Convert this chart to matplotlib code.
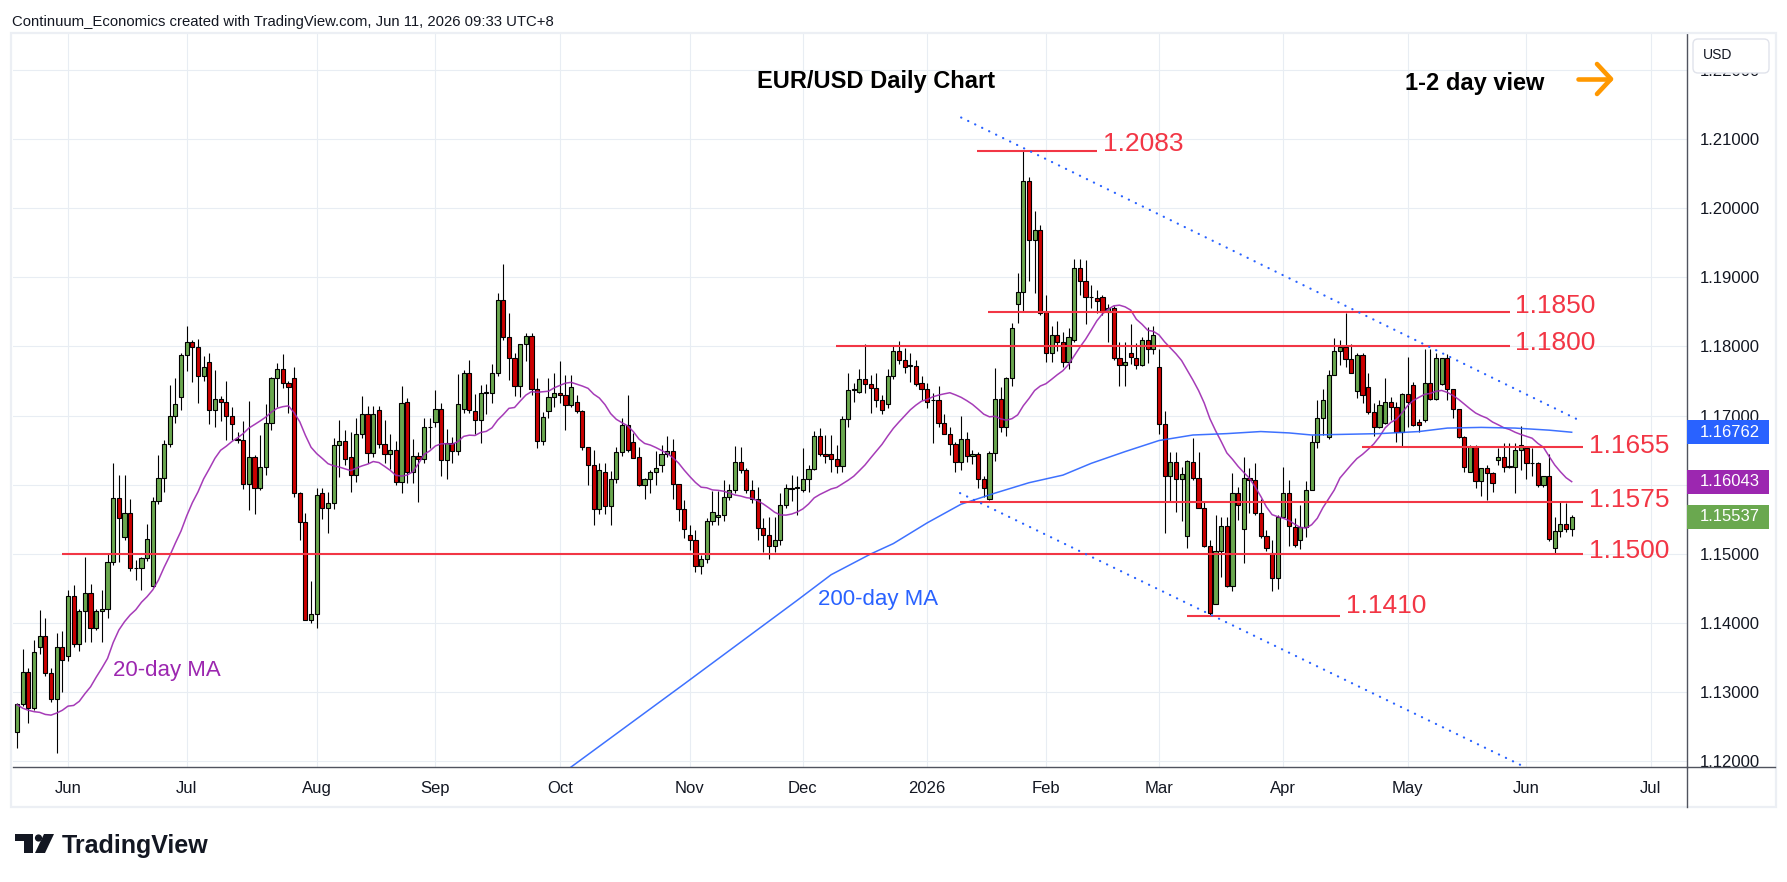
import numpy as np
import pandas as pd
import matplotlib
matplotlib.use("Agg")
import matplotlib.pyplot as plt
from matplotlib.patches import Rectangle, FancyBboxPatch, Polygon, Circle
from matplotlib.lines import Line2D

plt.rcParams['font.family'] = ['Liberation Sans', 'DejaVu Sans']

# ---------------- data ----------------
opens = [1.1242,1.1283,1.1329,1.1278,1.1365,1.1381,1.1328,1.1291,1.1366,1.1353,
1.1439,1.1370,1.1417,1.1444,1.1393,1.1417,1.1420,1.1488,1.1581,1.1525,
1.1559,1.1479,1.1479,1.1494,1.1454,1.1576,1.1610,1.1659,1.1700,1.1727,
1.1787,1.1806,1.1799,1.1757,1.1777,1.1708,1.1724,1.1719,1.1699,1.1665,
1.1665,1.1601,1.1640,1.1595,1.1626,1.1689,1.1754,1.1767,1.1747,1.1754,
1.1588,1.1546,1.1405,1.1413,1.1588,1.1567,1.1574,1.1658,1.1663,1.1640,
1.1614,1.1673,1.1703,1.1646,1.1708,1.1659,1.1645,1.1651,1.1604,1.1719,
1.1618,1.1642,1.1638,1.1683,1.1691,1.1710,1.1636,1.1660,1.1649,1.1709,
1.1762,1.1707,1.1694,1.1733,1.1733,1.1761,1.1867,1.1813,1.1784,1.1743,
1.1803,1.1815,1.1738,1.1664,1.1706,1.1727,1.1733,1.1730,1.1715,1.1720,
1.1707,1.1655,1.1628,1.1565,1.1618,1.1569,1.1608,1.1648,1.1687,1.1662,
1.1640,1.1600,1.1609,1.1618,1.1628,1.1644,1.1649,1.1601,1.1565,1.1528,
1.1520,1.1483,1.1492,1.1547,1.1553,1.1557,1.1582,1.1593,1.1633,1.1621,
1.1592,1.1580,1.1537,1.1527,1.1511,1.1520,1.1571,1.1594,1.1596,1.1592,
1.1609,1.1623,1.1671,1.1645,1.1645,1.1637,1.1627,1.1695,1.1737,1.1734,
1.1753,1.1746,1.1740,1.1722,1.1717,1.1758,1.1794,1.1780,1.1772,1.1772,
1.1747,1.1738,1.1722,1.1722,1.1689,1.1674,1.1659,1.1633,1.1666,1.1642,
1.1645,1.1608,1.1580,1.1646,1.1724,1.1683,1.1754,1.1861,1.1879,1.2039,
1.1954,1.1969,1.1850,1.1790,1.1816,1.1806,1.1777,1.1809,1.1913,1.1894,
1.1871,1.1870,1.1872,1.1850,1.1855,1.1783,1.1773,1.1791,1.1784,1.1773,
1.1810,1.1797,1.1770,1.1688,1.1612,1.1633,1.1608,1.1526,1.1633,1.1610,
1.1567,1.1511,1.1428,1.1505,1.1540,1.1453,1.1588,1.1536,1.1610,1.1607,
1.1559,1.1526,1.1501,1.1465,1.1553,1.1588,1.1539,1.1520,1.1539,1.1593,
1.1662,1.1697,1.1669,1.1759,1.1794,1.1799,1.1782,1.1736,1.1788,1.1742,
1.1705,1.1683,1.1689,1.1719,1.1712,1.1677,1.1731,1.1745,1.1691,1.1693,
1.1747,1.1724,1.1746,1.1783,1.1738,1.1709,1.1669,1.1619,1.1655,1.1606,
1.1624,1.1617,1.1636,1.1640,1.1626,1.1626,1.1650,1.1653,1.1631,1.1631,
1.1599,1.1612,1.1508,1.1533,1.1543,1.1536]
highs = [1.1285,1.1362,1.1335,1.1376,1.1419,1.1407,1.1335,1.1386,1.1388,1.1448,
1.1455,1.1420,1.1495,1.1457,1.1420,1.1448,1.1500,1.1631,1.1614,1.1614,
1.1579,1.1491,1.1496,1.1543,1.1583,1.1643,1.1665,1.1745,1.1754,1.1790,
1.1830,1.1810,1.1811,1.1786,1.1790,1.1766,1.1728,1.1750,1.1713,1.1677,
1.1692,1.1721,1.1643,1.1672,1.1717,1.1756,1.1776,1.1789,1.1750,1.1771,
1.1590,1.1559,1.1461,1.1595,1.1596,1.1590,1.1668,1.1694,1.1679,1.1677,
1.1697,1.1728,1.1714,1.1714,1.1714,1.1693,1.1673,1.1663,1.1743,1.1725,
1.1666,1.1647,1.1697,1.1696,1.1737,1.1718,1.1680,1.1669,1.1760,1.1766,
1.1780,1.1731,1.1745,1.1746,1.1775,1.1878,1.1919,1.1848,1.1791,1.1804,
1.1819,1.1819,1.1754,1.1705,1.1754,1.1761,1.1779,1.1759,1.1759,1.1730,
1.1708,1.1655,1.1651,1.1631,1.1631,1.1620,1.1655,1.1696,1.1730,1.1675,
1.1655,1.1610,1.1622,1.1649,1.1658,1.1670,1.1666,1.1601,1.1578,1.1542,
1.1535,1.1499,1.1552,1.1591,1.1591,1.1607,1.1601,1.1656,1.1654,1.1624,
1.1607,1.1597,1.1552,1.1553,1.1554,1.1588,1.1601,1.1614,1.1612,1.1653,
1.1628,1.1678,1.1682,1.1672,1.1672,1.1657,1.1700,1.1762,1.1747,1.1768,
1.1803,1.1759,1.1762,1.1730,1.1768,1.1802,1.1808,1.1798,1.1790,1.1780,
1.1757,1.1747,1.1732,1.1743,1.1702,1.1683,1.1662,1.1699,1.1677,1.1650,
1.1648,1.1612,1.1649,1.1769,1.1742,1.1756,1.1834,1.1906,1.2083,1.2045,
1.1996,1.1976,1.1874,1.1829,1.1837,1.1821,1.1826,1.1926,1.1927,1.1925,
1.1889,1.1882,1.1874,1.1862,1.1858,1.1807,1.1807,1.1833,1.1805,1.1814,
1.1828,1.1829,1.1797,1.1706,1.1648,1.1648,1.1626,1.1636,1.1667,1.1648,
1.1576,1.1520,1.1556,1.1554,1.1554,1.1617,1.1597,1.1640,1.1625,1.1632,
1.1580,1.1535,1.1520,1.1556,1.1626,1.1607,1.1552,1.1571,1.1605,1.1672,
1.1723,1.1739,1.1766,1.1812,1.1809,1.1848,1.1803,1.1790,1.1791,1.1762,
1.1718,1.1723,1.1754,1.1727,1.1720,1.1733,1.1785,1.1748,1.1695,1.1796,
1.1797,1.1790,1.1784,1.1789,1.1739,1.1710,1.1670,1.1658,1.1658,1.1624,
1.1629,1.1619,1.1653,1.1661,1.1661,1.1661,1.1685,1.1655,1.1653,1.1633,
1.1612,1.1645,1.1554,1.1577,1.1574,1.1556]
lows = [1.1219,1.1280,1.1256,1.1275,1.1355,1.1324,1.1286,1.1212,1.1301,1.1345,
1.1366,1.1359,1.1373,1.1373,1.1390,1.1373,1.1407,1.1484,1.1489,1.1520,
1.1476,1.1463,1.1448,1.1490,1.1452,1.1572,1.1590,1.1655,1.1690,1.1708,
1.1764,1.1749,1.1718,1.1750,1.1688,1.1683,1.1692,1.1665,1.1665,1.1660,
1.1594,1.1563,1.1558,1.1593,1.1614,1.1679,1.1713,1.1740,1.1704,1.1583,
1.1520,1.1404,1.1400,1.1393,1.1551,1.1530,1.1565,1.1611,1.1628,1.1589,
1.1604,1.1668,1.1631,1.1640,1.1653,1.1631,1.1623,1.1600,1.1588,1.1603,
1.1603,1.1575,1.1631,1.1653,1.1684,1.1612,1.1609,1.1631,1.1643,1.1704,
1.1704,1.1673,1.1660,1.1703,1.1718,1.1758,1.1809,1.1751,1.1729,1.1727,
1.1779,1.1730,1.1653,1.1658,1.1697,1.1713,1.1718,1.1679,1.1713,1.1704,
1.1651,1.1600,1.1542,1.1558,1.1558,1.1542,1.1603,1.1641,1.1647,1.1639,
1.1598,1.1579,1.1588,1.1600,1.1619,1.1640,1.1579,1.1548,1.1523,1.1506,
1.1474,1.1471,1.1487,1.1542,1.1542,1.1548,1.1578,1.1588,1.1617,1.1588,
1.1573,1.1520,1.1503,1.1492,1.1503,1.1513,1.1567,1.1577,1.1556,1.1590,
1.1590,1.1621,1.1642,1.1631,1.1618,1.1617,1.1619,1.1683,1.1720,1.1732,
1.1733,1.1704,1.1713,1.1702,1.1711,1.1753,1.1774,1.1762,1.1748,1.1743,
1.1722,1.1711,1.1660,1.1684,1.1674,1.1643,1.1619,1.1621,1.1633,1.1630,
1.1595,1.1583,1.1578,1.1634,1.1677,1.1671,1.1743,1.1834,1.1850,1.1895,
1.1877,1.1846,1.1777,1.1777,1.1793,1.1771,1.1767,1.1807,1.1874,1.1833,
1.1855,1.1849,1.1846,1.1807,1.1780,1.1743,1.1743,1.1774,1.1768,1.1772,
1.1776,1.1789,1.1673,1.1531,1.1575,1.1560,1.1547,1.1508,1.1607,1.1566,
1.1510,1.1412,1.1427,1.1467,1.1452,1.1446,1.1549,1.1487,1.1559,1.1556,
1.1523,1.1505,1.1446,1.1449,1.1553,1.1511,1.1510,1.1507,1.1525,1.1592,
1.1653,1.1672,1.1666,1.1759,1.1773,1.1771,1.1761,1.1725,1.1718,1.1703,
1.1670,1.1682,1.1688,1.1694,1.1662,1.1655,1.1684,1.1685,1.1677,1.1691,
1.1723,1.1723,1.1744,1.1723,1.1696,1.1667,1.1619,1.1619,1.1595,1.1584,
1.1578,1.1589,1.1629,1.1619,1.1624,1.1588,1.1621,1.1608,1.1612,1.1597,
1.1597,1.1519,1.1501,1.1525,1.1532,1.1526]
closes = [1.1283,1.1329,1.1278,1.1358,1.1381,1.1328,1.1291,1.1366,1.1347,1.1439,
1.1370,1.1417,1.1444,1.1393,1.1417,1.1420,1.1488,1.1581,1.1552,1.1559,
1.1479,1.1480,1.1494,1.1521,1.1576,1.1610,1.1659,1.1700,1.1717,1.1787,
1.1806,1.1799,1.1757,1.1770,1.1708,1.1724,1.1719,1.1699,1.1688,1.1666,
1.1601,1.1640,1.1595,1.1626,1.1689,1.1754,1.1767,1.1747,1.1741,1.1588,
1.1546,1.1405,1.1413,1.1585,1.1567,1.1574,1.1658,1.1663,1.1638,1.1614,
1.1673,1.1703,1.1646,1.1702,1.1659,1.1645,1.1651,1.1604,1.1718,1.1618,
1.1642,1.1638,1.1683,1.1684,1.1710,1.1636,1.1660,1.1649,1.1717,1.1762,
1.1708,1.1694,1.1733,1.1734,1.1761,1.1867,1.1813,1.1784,1.1743,1.1803,
1.1815,1.1738,1.1664,1.1698,1.1727,1.1733,1.1730,1.1715,1.1741,1.1707,
1.1655,1.1628,1.1565,1.1622,1.1569,1.1608,1.1648,1.1687,1.1651,1.1639,
1.1600,1.1609,1.1618,1.1625,1.1644,1.1649,1.1601,1.1565,1.1536,1.1520,
1.1483,1.1492,1.1547,1.1561,1.1557,1.1582,1.1593,1.1633,1.1621,1.1592,
1.1580,1.1537,1.1527,1.1511,1.1520,1.1571,1.1595,1.1596,1.1596,1.1609,
1.1623,1.1671,1.1645,1.1641,1.1637,1.1627,1.1695,1.1737,1.1738,1.1753,
1.1746,1.1740,1.1722,1.1708,1.1758,1.1794,1.1780,1.1770,1.1773,1.1746,
1.1738,1.1719,1.1723,1.1689,1.1674,1.1659,1.1633,1.1666,1.1642,1.1645,
1.1608,1.1595,1.1646,1.1724,1.1683,1.1754,1.1826,1.1879,1.2039,1.1954,
1.1969,1.1848,1.1790,1.1816,1.1806,1.1777,1.1813,1.1913,1.1894,1.1871,
1.1872,1.1866,1.1850,1.1855,1.1783,1.1773,1.1777,1.1785,1.1773,1.1810,
1.1797,1.1816,1.1688,1.1612,1.1633,1.1608,1.1616,1.1634,1.1610,1.1567,
1.1511,1.1414,1.1505,1.1540,1.1453,1.1588,1.1571,1.1610,1.1607,1.1559,
1.1526,1.1508,1.1465,1.1553,1.1588,1.1540,1.1513,1.1539,1.1593,1.1662,
1.1697,1.1723,1.1759,1.1794,1.1799,1.1782,1.1762,1.1788,1.1730,1.1705,
1.1683,1.1716,1.1719,1.1712,1.1677,1.1731,1.1720,1.1686,1.1686,1.1747,
1.1724,1.1784,1.1783,1.1738,1.1709,1.1669,1.1626,1.1655,1.1606,1.1624,
1.1617,1.1602,1.1640,1.1626,1.1627,1.1650,1.1657,1.1631,1.1632,1.1599,
1.1612,1.1521,1.1533,1.1543,1.1536,1.1554]

# 20-day MA values before a full 20-bar window is visible
ma20_head = [1.1282,1.1277,1.1274,1.1272,1.1271,1.1268,1.1267,1.1270,1.1274,1.1280,
             1.1281,1.1287,1.1298,1.1308,1.1322,1.1335,1.1349,1.1372,1.1390]
# 200-day MA: bar index -> value
ma200_idx = [96,118,138,144,151,155,161,167,173,179,185,190,196,202,208,214,220,
             225,229,235,241,248,253,259,265,271,275]
ma200_val = [1.1180,1.1312,1.1433,1.1470,1.1500,1.1515,1.1545,1.1572,1.1588,1.1603,
             1.1614,1.1631,1.1648,1.1664,1.1672,1.1674,1.1677,1.1675,1.1672,1.1673,
             1.1674,1.1677,1.1682,1.1683,1.1682,1.1679,1.1676]

levels = [1.2083, 1.1850, 1.1800, 1.1655, 1.1575, 1.1500, 1.1410]
level_labels = ['1.2083', '1.1850', '1.1800', '1.1655', '1.1575', '1.1500', '1.1410']
upper_trend_idx = [167.0, 276.9]
upper_trend_val = [1.2131, 1.1691]
lower_trend_idx = [166.8, 266.7]
lower_trend_val = [1.1588, 1.1192]

tag_values = [1.16762, 1.16043, 1.15537]
tag_texts = ['1.16762', '1.16043', '1.15537']
yticks = [1.12, 1.13, 1.14, 1.15, 1.16, 1.17, 1.18, 1.19, 1.20, 1.21, 1.22]

# ---------------- layout helpers ----------------
W, H = 1787, 882
L, R, T, B = 13, 1687, 33, 767
X0, DX = 17.1, 5.653          # pixel of bar 0, pixels per bar
YMIN, YMAX = 1.11920, 1.22532
PPU = (B - T) / (YMAX - YMIN)   # pixels per price unit


def px2i(px):
    return (px - X0) / DX


GREEN = '#6aa84f'
RED = '#cc0000'
LVL = '#f23645'
BLUE = '#2962ff'
PURPLE = '#9c27b0'
TXT = '#131722'

fig = plt.figure(figsize=(W / 100, H / 100), dpi=100, facecolor='white')
ax = fig.add_axes([L / W, 1 - B / H, (R - L) / W, (B - T) / H])
ax.set_xlim(px2i(L), px2i(R))
ax.set_ylim(YMIN, YMAX)
ax.set_axisbelow(True)

# dates / month ticks (bars exclude weekends, Dec 25, Jan 1)
days = pd.bdate_range('2025-05-20', '2026-07-31')
days = days[~days.isin(pd.to_datetime(['2025-12-25', '2026-01-01']))]
ser = pd.Series(np.arange(len(days)), index=days)
month_pos, month_lab = [], []
prev = None
for d, i in ser.items():
    key = (d.year, d.month)
    if key != prev:
        if i > 0:
            month_pos.append(i)
            month_lab.append('2026' if (d.month == 1) else d.strftime('%b'))
        prev = key

ax.set_xticks(month_pos)
ax.set_xticklabels(month_lab)
ax.set_yticks(yticks)
ax.set_yticklabels(['%.5f' % v for v in yticks])
ax.yaxis.tick_right()
ax.tick_params(axis='y', length=0, pad=9.5, labelsize=12, labelcolor=TXT)
ax.tick_params(axis='x', length=0, pad=10, labelsize=12, labelcolor=TXT)
ax.grid(True, color='#e8edf3', lw=0.8)
for s in ['top', 'left']:
    ax.spines[s].set_visible(False)
for s in ['right', 'bottom']:
    ax.spines[s].set_color('#50535e')
    ax.spines[s].set_linewidth(1.0)

# ---------------- candles ----------------
o = np.array(opens); h = np.array(highs); lo = np.array(lows); c = np.array(closes)
x = np.arange(len(c))
cols = np.where(c >= o, GREEN, RED)
ax.vlines(x, lo, h, color='black', lw=0.8, zorder=3)
bot = np.minimum(o, c)
hgt = np.maximum(np.abs(c - o), 0.00004)
ax.bar(x, hgt, bottom=bot, width=0.74, color=cols, edgecolor='black', linewidth=0.8, zorder=4)

# ---------------- moving averages ----------------
ma20 = np.concatenate([ma20_head, pd.Series(c).rolling(20).mean().to_numpy()[19:]])
ax.plot(x, ma20, color=PURPLE, lw=1.1, zorder=5, alpha=0.9)
ax.plot(ma200_idx, ma200_val, color=BLUE, lw=1.1, zorder=5, alpha=0.9)

# ---------------- drawings ----------------
level_span_px = [(977, 1097), (988, 1510), (836, 1510), (1362, 1583), (960, 1583), (62, 1583), (1187, 1340)]
label_x_px = [1103, 1515, 1515, 1589, 1589, 1589, 1346]
label_dy_px = [0, 1, 4, 6, 5, 4, -3]
for lv, lab, (a, b), lx, dy in zip(levels, level_labels, level_span_px, label_x_px, label_dy_px):
    ax.plot([px2i(a), px2i(b)], [lv, lv], color=LVL, lw=1.5, zorder=6, solid_capstyle='butt')
    ax.text(px2i(lx), lv - dy / PPU, lab, color=LVL, fontsize=19, ha='left', va='baseline',
            zorder=7, clip_on=False)

ax.plot(upper_trend_idx, upper_trend_val, color=BLUE, lw=1.6, ls=(0, (0.1, 3.4)),
        dash_capstyle='round', zorder=6)
ax.plot(lower_trend_idx, lower_trend_val, color=BLUE, lw=1.6, ls=(0, (0.1, 3.4)),
        dash_capstyle='round', zorder=6)

ax.text(px2i(113), 1.1500 - (676 - 554) / PPU, '20-day MA', color=PURPLE, fontsize=16,
        ha='left', va='baseline', zorder=7)
ax.text(px2i(818), 1.1500 - (605 - 554) / PPU, '200-day MA', color=BLUE, fontsize=16,
        ha='left', va='baseline', zorder=7)

# ---------------- price tags on the scale ----------------
ytr = ax.get_yaxis_transform()
tag_cols = [BLUE, PURPLE, GREEN]
axw = R - L
for v, t, col in zip(tag_values, tag_texts, tag_cols):
    ax.add_patch(Rectangle((1.0, v - 12 / PPU), 82 / axw, 24 / PPU, transform=ytr,
                           facecolor=col, edgecolor='none', clip_on=False, zorder=10))
    ax.text(1.0 + 13 / axw, v, t, transform=ytr, color='white', fontsize=12,
            ha='left', va='center', clip_on=False, zorder=11)

# ---------------- overlay (pixel coordinates) ----------------
ov = fig.add_axes([0, 0, 1, 1], zorder=20)
ov.set_xlim(0, W)
ov.set_ylim(H, 0)
ov.axis('off')

# panel border and scale lines
ov.add_patch(Rectangle((11, 33), 1765, 774, facecolor='none', edgecolor='#eceff4', lw=1.6))
ov.add_line(Line2D([R, R], [B, 807], color='#50535e', lw=1.0))
ov.add_line(Line2D([R, 1775], [B, B], color='#50535e', lw=1.0))

# USD box
ov.add_patch(FancyBboxPatch((1693, 39), 76, 34, boxstyle='round,pad=0,rounding_size=5',
                            facecolor='white', edgecolor='#e0e3eb', lw=1.0))
ov.text(1703, 55, 'USD', fontsize=10, color=TXT, ha='left', va='center')

# header, titles
ov.text(12, 26, 'Continuum_Economics created with TradingView.com, Jun 11, 2026 09:33 UTC+8',
        fontsize=10.7, color=TXT, ha='left', va='baseline')
ov.text(757, 88, 'EUR/USD Daily Chart', fontsize=17, fontweight='bold', color='black',
        ha='left', va='baseline')
ov.text(1544, 90, '1-2 day view', fontsize=17, fontweight='bold', color='black',
        ha='right', va='baseline')

# orange arrow
ORG = '#ff9800'
ov.add_line(Line2D([1578, 1610], [79, 79], color=ORG, lw=3.3, solid_capstyle='round'))
ov.add_line(Line2D([1597, 1611, 1597], [64, 79, 94], color=ORG, lw=3.3,
                   solid_capstyle='round', solid_joinstyle='round'))

# TradingView logo
ov.add_patch(Rectangle((15, 834), 18, 7, facecolor=TXT, edgecolor='none'))
ov.add_patch(Rectangle((24, 834), 9, 19, facecolor=TXT, edgecolor='none'))
ov.add_patch(Circle((38.5, 838), 3.6, facecolor=TXT, edgecolor='none'))
ov.add_patch(Polygon([(44, 834), (54, 834), (45, 853), (35, 853)], closed=True,
                     facecolor=TXT, edgecolor='none'))
ov.text(62, 853, 'TradingView', fontsize=18, fontweight='bold', color=TXT,
        ha='left', va='baseline')

fig.savefig('out.png', dpi=100, facecolor='white')
